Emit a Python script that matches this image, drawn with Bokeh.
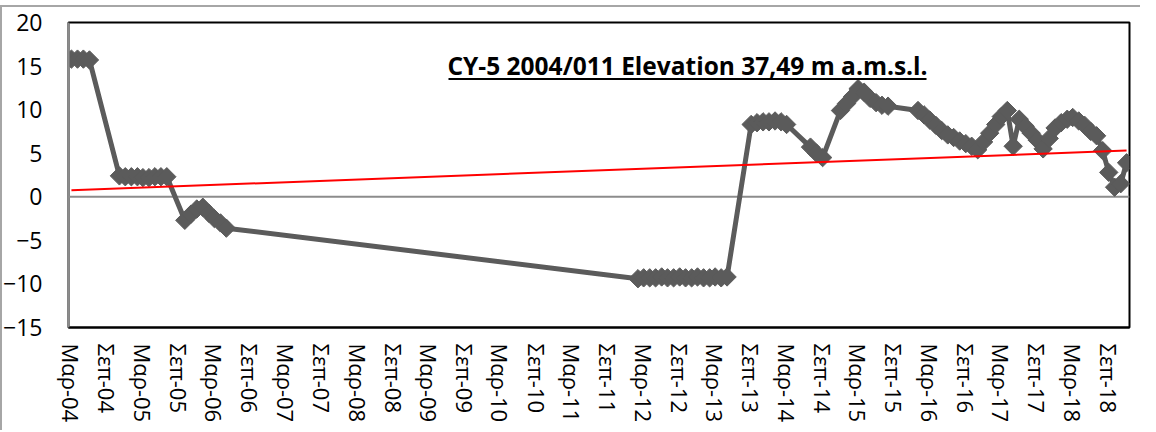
import numpy as np
import pandas as pd
from bokeh.plotting import figure
from bokeh.models import ColumnDataSource, Range1d, FixedTicker, Span, Label, BoxAnnotation
from bokeh.embed import file_html
from bokeh.resources import INLINE

# ---- data ----
months = [
    "2004-03", "2004-04", "2004-05", "2004-06",
    "2004-11", "2004-12", "2005-01", "2005-02", "2005-03", "2005-04", "2005-05", "2005-06", "2005-07",
    "2005-10", "2005-11", "2005-12", "2006-01", "2006-02", "2006-03", "2006-04", "2006-05",
    "2012-02", "2012-03", "2012-04", "2012-05", "2012-06", "2012-07", "2012-08", "2012-09",
    "2012-10", "2012-11", "2012-12", "2013-01", "2013-02", "2013-03", "2013-04", "2013-05",
    "2013-09", "2013-10", "2013-11", "2013-12", "2014-01", "2014-02", "2014-03",
    "2014-07", "2014-08", "2014-09",
    "2014-12", "2015-01", "2015-02", "2015-03", "2015-04", "2015-05", "2015-06", "2015-07", "2015-08",
    "2016-01", "2016-02", "2016-03", "2016-04", "2016-05", "2016-06", "2016-07", "2016-08",
    "2016-09", "2016-10", "2016-11",
    "2016-12", "2017-01", "2017-02", "2017-03", "2017-04", "2017-05", "2017-06", "2017-07",
    "2017-08", "2017-09", "2017-10", "2017-11", "2017-12", "2018-01", "2018-02", "2018-03",
    "2018-04", "2018-05", "2018-06", "2018-07", "2018-08", "2018-09", "2018-10", "2018-11",
    "2018-12",
]
level = [
    15.8, 15.8, 15.8, 15.7,
    2.4, 2.3, 2.3, 2.3, 2.2, 2.2, 2.3, 2.3, 2.3,
    -2.7, -2.0, -1.4, -1.2, -1.9, -2.5, -3.0, -3.6,
    -9.4, -9.3, -9.3, -9.3, -9.2, -9.3, -9.3, -9.2,
    -9.3, -9.3, -9.2, -9.3, -9.3, -9.2, -9.3, -9.2,
    8.3, 8.5, 8.6, 8.6, 8.7, 8.6, 8.3,
    5.7, 5.0, 4.5,
    9.9, 10.7, 11.5, 12.4, 12.0, 11.3, 10.8, 10.5, 10.4,
    9.9, 9.4, 8.8, 8.2, 7.6, 7.1, 6.8, 6.4,
    6.1, 5.8, 5.4,
    6.3, 7.3, 8.3, 9.2, 9.9, 5.8, 8.9, 8.1,
    7.3, 6.5, 5.5, 6.7, 7.9, 8.5, 8.9, 9.1,
    8.7, 8.2, 7.5, 7.0, 5.3, 2.8, 1.1, 1.5,
    3.9,
]
trend_months = ["2004-03", "2018-12"]
trend_level = [0.75, 5.3]

tick_months = []
tick_labels = []
for yr in range(2004, 2019):
    tick_months += [f"{yr}-03", f"{yr}-09"]
    tick_labels += [f"Μαρ-{yr % 100:02d}", f"Σεπ-{yr % 100:02d}"]
y_ticks = [-15, -10, -5, 0, 5, 10, 15, 20]
title_text = "CY-5 2004/011 Elevation 37,49 m a.m.s.l."

# ---- figure ----
GRAY = "#5b5b5b"
FONT = "Open Sans"

src = ColumnDataSource(dict(x=pd.to_datetime(months), y=level))
tsrc = ColumnDataSource(dict(x=pd.to_datetime(trend_months), y=trend_level))

p = figure(width=1140, height=430, x_axis_type="datetime",
           x_range=Range1d(pd.Timestamp("2004-02-15"), pd.Timestamp("2018-12-16")),
           y_range=Range1d(-15, 20),
           output_backend="svg", toolbar_location=None,
           min_border_left=62, min_border_right=11, min_border_top=22, min_border_bottom=103)
p.background_fill_color = "white"
p.border_fill_color = None
p.styles = {
    "background": ("linear-gradient(#a6a6a6, #a6a6a6) 0px 5px / 100% 2px no-repeat, "
                   "linear-gradient(#a6a6a6, #a6a6a6) 0px 5px / 2px 100% no-repeat, white"),
}
p.outline_line_color = "black"
p.outline_line_width = 2
p.xgrid.grid_line_color = None
p.ygrid.grid_line_color = None

zero = Span(location=0, dimension="width", line_color="#8c8c8c", line_width=2, level="underlay")
p.add_layout(zero)

p.line("x", "y", source=src, line_color=GRAY, line_width=5)
p.scatter("x", "y", source=src, marker="square", size=13, angle=np.pi / 4,
          fill_color=GRAY, line_color=GRAY)
p.line("x", "y", source=tsrc, line_color="#ff0000", line_width=2)

epoch = pd.Timestamp("1970-01-01")
tick_ms = [float((pd.Timestamp(m) - epoch) / pd.Timedelta(milliseconds=1)) for m in tick_months]
xa = p.xaxis[0]
xa.ticker = FixedTicker(ticks=tick_ms)
xa.major_label_overrides = {t: lab for t, lab in zip(tick_ms, tick_labels)}
xa.major_label_orientation = "vertical"
xa.major_tick_line_color = None
xa.minor_tick_line_color = None
xa.major_tick_out = 0
xa.major_tick_in = 0
xa.axis_line_color = "black"
xa.axis_line_width = 2
xa.major_label_standoff = 16
xa.major_label_text_font = FONT
xa.major_label_text_font_size = "22px"
xa.major_label_text_color = "black"

ya = p.yaxis[0]
ya.ticker = FixedTicker(ticks=y_ticks)
ya.major_tick_line_color = None
ya.minor_tick_line_color = None
ya.major_tick_out = 0
ya.major_tick_in = 0
ya.axis_line_color = "#8c8c8c"
ya.axis_line_width = 2
ya.major_label_standoff = 26
ya.major_label_text_font = FONT
ya.major_label_text_font_size = "23px"
ya.major_label_text_color = "black"

title = Label(x=619, y=262, x_units="screen", y_units="screen", text=title_text,
              text_font=FONT, text_font_style="bold", text_font_size="24.5px",
              text_align="center", text_baseline="middle", text_color="black")
p.add_layout(title)
underline = BoxAnnotation(left=380, right=858, bottom=247.5, top=249.5,
                          left_units="screen", right_units="screen",
                          bottom_units="screen", top_units="screen",
                          fill_color="black", fill_alpha=1.0, line_color=None)
p.add_layout(underline)

open("out.html", "w").write(file_html(p, INLINE))
